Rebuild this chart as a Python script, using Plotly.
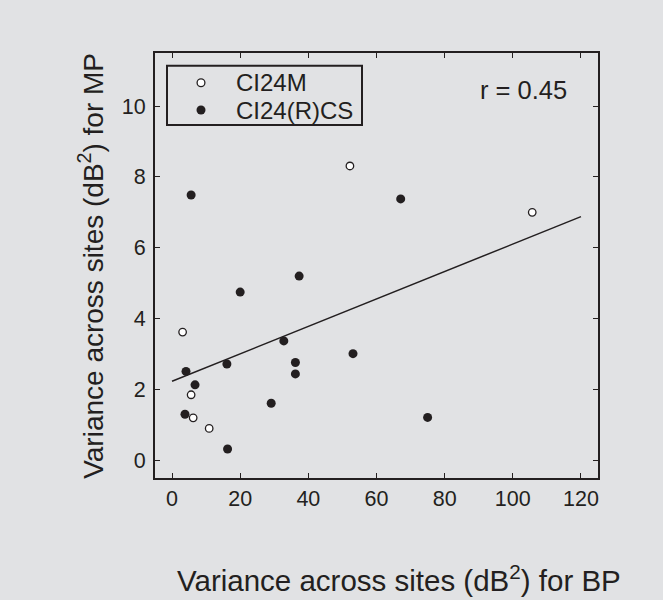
import plotly.graph_objects as go

# CI24M (open circles)
m_x = [3.1, 5.6, 6.2, 10.9, 52.2, 105.7]
m_y = [3.62, 1.85, 1.20, 0.90, 8.31, 7.00]

# CI24(R)CS (filled circles)
cs_x = [4.1, 6.75, 3.8, 16.3, 16.1, 20.0, 29.1, 32.8, 36.2, 36.2, 53.1, 37.3, 67.1, 75.0, 5.6]
cs_y = [2.51, 2.13, 1.30, 0.32, 2.72, 4.75, 1.61, 3.37, 2.76, 2.44, 3.01, 5.20, 7.38, 1.21, 7.49]

# regression line end points
fit_x = [0, 120]
fit_y = [2.23, 6.88]

x_ticks = [0, 20, 40, 60, 80, 100, 120]
y_ticks = [0, 2, 4, 6, 8, 10]
legend_names = ["CI24M", "CI24(R)CS"]

INK = "#231f20"
BG = "#e1e2e4"
FONT = "Liberation Sans, Arial, Helvetica, sans-serif"

fig = go.Figure()
fig.add_trace(go.Scatter(
    x=fit_x, y=fit_y, mode="lines", line=dict(color=INK, width=1.5),
    showlegend=False, hoverinfo="skip"))
fig.add_trace(go.Scatter(
    x=m_x, y=m_y, mode="markers", name=legend_names[0], showlegend=False,
    marker=dict(symbol="circle", size=7.5, color="white",
                line=dict(color=INK, width=1.3))))
fig.add_trace(go.Scatter(
    x=cs_x, y=cs_y, mode="markers", name=legend_names[1], showlegend=False,
    marker=dict(symbol="circle", size=9, color=INK, line=dict(width=0))))

axis_common = dict(
    showgrid=False, zeroline=False, showline=True, linewidth=2, linecolor=INK,
    mirror="ticks", ticks="inside", ticklen=5, tickwidth=1, tickcolor=INK,
    tickfont=dict(family=FONT, size=21.5, color=INK),
)

# ---- legend box (drawn by hand to match the compact original) ----
# plot area in pixels: x 155..598, y 53..478
def px_x(p):
    return (p - 155) / 443.0

def px_y(p):
    return (478 - p) / 425.0

leg_rows_px = [82.7, 110.0]
shapes = [dict(type="rect", xref="paper", yref="paper",
               x0=px_x(167), x1=px_x(362), y0=px_y(125), y1=px_y(65.7),
               line=dict(color=INK, width=2), fillcolor="rgba(0,0,0,0)")]
leg_styles = [dict(fill="white", r=3.9, lw=1.3), dict(fill=INK, r=4.5, lw=0)]
annotations = []
for name, row, st in zip(legend_names, leg_rows_px, leg_styles):
    shapes.append(dict(type="circle", xref="paper", yref="paper",
                       xsizemode="pixel", ysizemode="pixel",
                       xanchor=px_x(201), yanchor=px_y(row),
                       x0=-st["r"], x1=st["r"], y0=-st["r"], y1=st["r"],
                       fillcolor=st["fill"],
                       line=dict(color=INK, width=st["lw"])))
    annotations.append(dict(text=name, x=px_x(234), y=px_y(row),
                            xref="paper", yref="paper", xanchor="left",
                            yanchor="middle", showarrow=False,
                            font=dict(family=FONT, size=24, color=INK)))

annotations += [
    dict(text="r = 0.45", x=116.5, y=10.45, xref="x", yref="y",
         xanchor="right", yanchor="middle", showarrow=False,
         font=dict(family=FONT, size=25.5, color=INK)),
    dict(text="Variance across sites (dB<sup>2</sup>) for BP",
         x=0.55, y=-0.2355, xref="paper", yref="paper",
         xanchor="center", yanchor="middle", showarrow=False,
         font=dict(family=FONT, size=29.5, color=INK)),
    dict(text="Variance across sites (dB<sup>2</sup>) for MP",
         x=-0.146, y=0.5, xref="paper", yref="paper", textangle=-90,
         xanchor="center", yanchor="middle", showarrow=False,
         font=dict(family=FONT, size=28, color=INK)),
]

fig.update_layout(
    width=663, height=600,
    paper_bgcolor=BG, plot_bgcolor=BG,
    margin=dict(l=155, r=65, t=53, b=122),
    font=dict(family=FONT, color=INK),
    showlegend=False,
    xaxis=dict(range=[-5, 125], tickvals=x_ticks, **axis_common),
    yaxis=dict(range=[-0.5, 11.5], tickvals=y_ticks, ticklabelstandoff=3,
               **axis_common),
    shapes=shapes,
    annotations=annotations,
)

fig.write_html("out.html")
